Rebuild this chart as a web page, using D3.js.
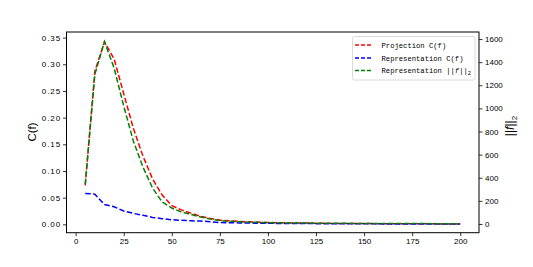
<!DOCTYPE html>
<html><head><meta charset="utf-8">
<script src="https://cdn.jsdelivr.net/npm/d3@7"></script>
<style>body{margin:0;background:#fff}svg{display:block}</style>
</head><body>
<svg id="c" width="533" height="267"></svg>
<script>
const xs = [5,10,15,20,25,30,35,40,45,50,55,60,65,70,75,80,85,90,95,100,105,110,115,120,125,130,135,140,145,150,155,160,165,170,175,180,185,190,195,200];
const projC = [0.073,0.287,0.342,0.31,0.245,0.18,0.128,0.085,0.055,0.035,0.027,0.021,0.015,0.011,0.008,0.0065,0.0055,0.0047,0.004,0.0035,0.003,0.0027,0.0025,0.0023,0.0021,0.0019,0.0017,0.0016,0.0015,0.0014,0.0013,0.0012,0.0011,0.001,0.001,0.0009,0.0009,0.0008,0.0008,0.0007];
const reprC = [0.058,0.0565,0.037,0.033,0.025,0.0205,0.017,0.013,0.0105,0.0086,0.0075,0.0067,0.006,0.005,0.0034,0.003,0.0027,0.0024,0.0021,0.0019,0.0017,0.0016,0.0015,0.0014,0.0013,0.0012,0.0011,0.001,0.001,0.0009,0.0009,0.0008,0.0008,0.0007,0.0007,0.0007,0.0006,0.0006,0.0006,0.0005];
const reprNorm = [346,1295,1578,1350,1021,718,493,311,190,138,104,82,60,43,30,23,19,16,14,11,10,9,8,7.5,7,6.5,6,5.5,5,4.8,4.5,4.2,4,3.8,3.5,3.2,3,2.8,2.5,2.2];
const xTicks = [0,25,50,75,100,125,150,175,200];
const yTicksL = [0,0.05,0.10,0.15,0.20,0.25,0.30,0.35];
const yTicksR = [0,200,400,600,800,1000,1200,1400,1600];
const seriesNames = ["Projection C(f)","Representation C(f)","Representation ||f||2"];
const colors = ["#ff0000","#0000ff","#008000"];

const svg = d3.select("#c");
const L=66.5, R=479, T=32, B=232.7;
const x = d3.scaleLinear().domain([-4.75,209.75]).range([L,R]);
const yL = d3.scaleLinear().domain([-0.0157,0.3605]).range([B,T]);
const yR = d3.scaleLinear().domain([-75.5,1661]).range([B,T]);

const font = "'Liberation Sans', Arial, sans-serif";
const g = svg.append("g");

function line(ys, sc){ return d3.line().x((d,i)=>x(xs[i])).y(d=>sc(d))(ys); }
const dash = "5.5,2.4";
g.append("path").attr("d",line(projC,yL)).attr("fill","none").attr("stroke",colors[0]).attr("stroke-width",1.5).attr("stroke-dasharray",dash);
g.append("path").attr("d",line(reprC,yL)).attr("fill","none").attr("stroke",colors[1]).attr("stroke-width",1.5).attr("stroke-dasharray",dash);
g.append("path").attr("d",line(reprNorm,yR)).attr("fill","none").attr("stroke",colors[2]).attr("stroke-width",1.5).attr("stroke-dasharray",dash);

// axes
const ax = d3.axisBottom(x).tickValues(xTicks).tickSize(3.5).tickPadding(2.5).tickFormat(d3.format("d"));
const axG = svg.append("g").attr("transform",`translate(0,${B})`).call(ax);
const ayL = d3.axisLeft(yL).tickValues(yTicksL).tickSize(3.5).tickPadding(2).tickFormat(d3.format(".2f"));
const ayLG = svg.append("g").attr("transform",`translate(${L},0)`).call(ayL);
const ayR = d3.axisRight(yR).tickValues(yTicksR).tickSize(3.5).tickPadding(2.5).tickFormat(d3.format("d"));
const ayRG = svg.append("g").attr("transform",`translate(${R},0)`).call(ayR);
[axG,ayLG,ayRG].forEach(a=>{
  a.select(".domain").remove();
  a.selectAll("text").attr("font-family",font).attr("font-size",8).attr("fill","#000");
  a.selectAll("line").attr("stroke","#000").attr("stroke-width",0.8);
});
ayLG.selectAll("text").attr("letter-spacing",0.9);
svg.append("rect").attr("x",L).attr("y",T).attr("width",R-L).attr("height",B-T)
  .attr("fill","none").attr("stroke","#000").attr("stroke-width",1);

// axis labels
svg.append("text").attr("transform",`translate(36,132) rotate(-90)`).attr("text-anchor","middle")
  .attr("font-family",font).attr("font-size",11.5).text("C(f)");
const rl = svg.append("text").attr("transform",`translate(514,126) rotate(-90)`).attr("text-anchor","middle")
  .attr("font-family",font).attr("font-size",12);
rl.append("tspan").text("||");
rl.append("tspan").attr("font-style","italic").text("f");
rl.append("tspan").text("||");
rl.append("tspan").attr("font-size",8).attr("dy",3).text("2");

// legend
const lg = svg.append("g");
lg.append("rect").attr("x",352.5).attr("y",36.5).attr("width",122.5).attr("height",43.5).attr("rx",2)
  .attr("fill","#fff").attr("fill-opacity",0.8).attr("stroke","#d0d0d0").attr("stroke-width",0.8);
const rowsY = [45,58,70.5];
const mono = "'Liberation Mono','DejaVu Sans Mono',monospace";
seriesNames.forEach((n,i)=>{
  lg.append("line").attr("x1",355).attr("x2",372).attr("y1",rowsY[i]).attr("y2",rowsY[i])
    .attr("stroke",colors[i]).attr("stroke-width",1.5).attr("stroke-dasharray","4,2");
  const t = lg.append("text").attr("x",381.5).attr("y",rowsY[i]+2.6).attr("font-family",mono).attr("font-size",7.2);
  if(i<2){ t.text(n); }
  else {
    t.append("tspan").text("Representation ||");
    t.append("tspan").attr("font-style","italic").text("f");
    t.append("tspan").text("||");
    t.append("tspan").attr("font-size",5.5).attr("dy",1.5).text("2");
  }
});
</script>
</body></html>
